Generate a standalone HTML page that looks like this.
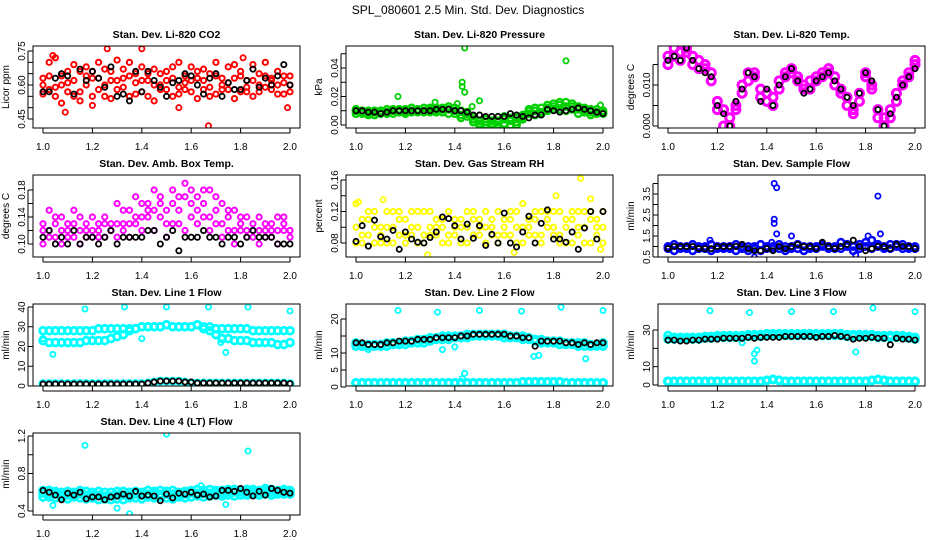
<!DOCTYPE html>
<html><head><meta charset="utf-8"><style>
html,body{margin:0;padding:0;background:#fff;}
svg{display:block;font-family:"Liberation Sans",sans-serif;}
</style></head><body>
<svg id="chart" width="936" height="540" viewBox="0 0 936 540">
<rect width="936" height="540" fill="#fff"/>
<text x="468" y="14" text-anchor="middle" font-size="12">SPL_080601  2.5 Min. Std. Dev. Diagnostics</text>
</svg>
<script>
// ---- data (x evenly spaced from 1.0 to 2.0) ----
const xTicks = [1.0,1.2,1.4,1.6,1.8,2.0];
const xTickLabels = ["1.0","1.2","1.4","1.6","1.8","2.0"];

const co2RedA = [0.60,0.58,0.72,0.64,0.61,0.55,0.66,0.60,0.63,0.58,0.67,0.62,0.71,0.59,0.64,0.56,0.68,0.62,0.60,0.65,0.58,0.63,0.70,0.61,0.57,0.66,0.62,0.59,0.64,0.60,0.68,0.63,0.57,0.62,0.69,0.60,0.64,0.58,0.66,0.61,0.60];
const co2RedB = [0.56,0.64,0.59,0.52,0.66,0.62,0.57,0.68,0.55,0.63,0.60,0.54,0.62,0.67,0.55,0.61,0.57,0.65,0.53,0.60,0.66,0.55,0.59,0.64,0.62,0.54,0.58,0.65,0.56,0.63,0.58,0.54,0.64,0.57,0.55,0.65,0.59,0.62,0.56,0.64,0.57];
const co2RedC = [0.63,0.70,0.55,0.60,0.57,0.69,0.53,0.64,0.66,0.70,0.55,0.66,0.58,0.63,0.70,0.65,0.62,0.55,0.67,0.58,0.62,0.68,0.56,0.58,0.68,0.63,0.67,0.55,0.70,0.58,0.61,0.69,0.66,0.59,0.62,0.57,0.70,0.63,0.60,0.56,0.64];
const co2OutX = [1.26,1.40,1.09,1.67,1.99,1.04,1.81,1.20,1.55];
const co2OutY = [0.76,0.76,0.48,0.42,0.50,0.73,0.72,0.51,0.50];
const co2Black = [0.57,0.57,0.63,0.65,0.64,0.56,0.67,0.62,0.66,0.63,0.59,0.68,0.55,0.56,0.53,0.66,0.57,0.66,0.62,0.59,0.55,0.61,0.62,0.65,0.64,0.60,0.56,0.63,0.65,0.55,0.61,0.58,0.58,0.62,0.67,0.59,0.63,0.60,0.64,0.69,0.60];

const presGreenA = [0.010,0.009,0.008,0.009,0.010,0.011,0.010,0.009,0.011,0.010,0.010,0.012,0.011,0.010,0.012,0.011,0.008,0.010,0.006,0.004,0.003,0.002,0.001,0.002,0.004,0.003,0.002,0.005,0.008,0.010,0.012,0.014,0.015,0.014,0.016,0.013,0.011,0.010,0.009,0.009,0.008];
const presGreenB = [0.008,0.010,0.007,0.010,0.008,0.009,0.008,0.011,0.009,0.012,0.009,0.010,0.009,0.012,0.009,0.013,0.010,0.007,0.009,0.006,0.000,0.004,0.000,0.003,0.006,0.000,0.005,0.004,0.011,0.007,0.008,0.010,0.011,0.016,0.010,0.015,0.008,0.012,0.007,0.011,0.010];
const presGreenC = [0.011,0.008,0.010,0.007,0.009,0.008,0.011,0.010,0.008,0.009,0.011,0.009,0.012,0.009,0.011,0.008,0.012,0.005,0.008,0.002,0.001,0.000,0.003,0.000,0.001,0.005,0.000,0.007,0.010,0.012,0.009,0.012,0.013,0.011,0.013,0.011,0.013,0.009,0.011,0.008,0.009];
const presOutX = [1.44,1.43,1.43,1.44,1.17,1.85,1.50,1.99,1.41,1.32,1.47];
const presOutY = [0.054,0.030,0.027,0.023,0.020,0.045,0.017,0.014,0.015,0.016,0.013];
const presBlack = [0.010,0.010,0.009,0.009,0.008,0.009,0.010,0.010,0.010,0.010,0.010,0.010,0.010,0.011,0.011,0.011,0.010,0.010,0.009,0.007,0.007,0.006,0.006,0.006,0.006,0.008,0.007,0.006,0.005,0.007,0.007,0.011,0.010,0.009,0.010,0.011,0.012,0.011,0.010,0.009,0.008];

const tempMagA = [0.017,0.019,0.018,0.019,0.017,0.016,0.015,0.013,0.006,0.004,0.002,0.005,0.010,0.013,0.013,0.009,0.008,0.007,0.011,0.013,0.014,0.012,0.010,0.011,0.012,0.013,0.014,0.012,0.009,0.007,0.004,0.008,0.013,0.010,0.004,0.002,0.004,0.008,0.011,0.013,0.015];
const tempMagB = [0.015,0.017,0.016,0.018,0.015,0.014,0.014,0.011,0.004,0.000,0.000,0.004,0.008,0.011,0.012,0.007,0.006,0.005,0.009,0.012,0.013,0.011,0.009,0.009,0.011,0.012,0.013,0.010,0.008,0.005,0.003,0.006,0.012,0.009,0.002,0.000,0.002,0.006,0.010,0.012,0.016];
const tempBlack = [0.016,0.017,0.016,0.019,0.016,0.014,0.013,0.012,0.005,0.003,0.000,0.006,0.009,0.013,0.012,0.006,0.009,0.005,0.010,0.012,0.014,0.011,0.008,0.009,0.011,0.012,0.013,0.011,0.009,0.007,0.005,0.008,0.013,0.011,0.004,0.000,0.003,0.007,0.010,0.012,0.014];

const ambMagA = [0.12,0.15,0.13,0.14,0.11,0.15,0.12,0.13,0.14,0.11,0.13,0.12,0.16,0.13,0.15,0.17,0.16,0.14,0.18,0.16,0.15,0.18,0.17,0.19,0.18,0.17,0.16,0.18,0.15,0.16,0.14,0.15,0.13,0.14,0.12,0.14,0.13,0.12,0.14,0.13,0.12];
const ambMagB = [0.10,0.12,0.11,0.10,0.13,0.11,0.10,0.12,0.11,0.13,0.11,0.12,0.11,0.12,0.11,0.13,0.12,0.15,0.12,0.14,0.11,0.13,0.15,0.12,0.16,0.13,0.14,0.12,0.13,0.11,0.12,0.10,0.12,0.11,0.13,0.10,0.12,0.11,0.10,0.12,0.11];
const ambMagC = [0.13,0.11,0.14,0.12,0.12,0.13,0.14,0.11,0.12,0.12,0.14,0.13,0.13,0.15,0.13,0.14,0.14,0.16,0.15,0.17,0.13,0.16,0.13,0.17,0.14,0.15,0.18,0.14,0.17,0.13,0.15,0.12,0.14,0.12,0.11,0.12,0.11,0.13,0.12,0.14,0.12];
const ambBlack = [0.11,0.12,0.10,0.11,0.10,0.12,0.10,0.11,0.11,0.10,0.11,0.12,0.10,0.11,0.11,0.11,0.11,0.12,0.12,0.10,0.11,0.12,0.09,0.11,0.11,0.11,0.12,0.11,0.11,0.10,0.11,0.11,0.10,0.11,0.12,0.11,0.11,0.11,0.10,0.10,0.10];

const rhYelA = [0.13,0.09,0.11,0.12,0.08,0.10,0.12,0.09,0.11,0.10,0.08,0.12,0.10,0.09,0.11,0.08,0.11,0.10,0.12,0.09,0.10,0.08,0.11,0.12,0.09,0.11,0.10,0.13,0.09,0.11,0.08,0.10,0.12,0.09,0.11,0.08,0.12,0.10,0.11,0.09,0.10];
const rhYelB = [0.08,0.11,0.09,0.08,0.10,0.12,0.08,0.11,0.09,0.12,0.10,0.09,0.12,0.10,0.08,0.12,0.09,0.11,0.08,0.12,0.11,0.10,0.09,0.08,0.11,0.09,0.12,0.08,0.11,0.09,0.12,0.11,0.09,0.12,0.08,0.11,0.09,0.12,0.08,0.11,0.08];
const rhYelC = [0.10,0.08,0.12,0.10,0.09,0.08,0.10,0.12,0.08,0.09,0.12,0.08,0.09,0.11,0.10,0.09,0.10,0.08,0.10,0.11,0.09,0.12,0.10,0.09,0.10,0.12,0.08,0.10,0.10,0.12,0.09,0.12,0.10,0.08,0.10,0.12,0.10,0.08,0.12,0.10,0.12];
const rhOutX = [1.91,1.29,1.81,1.11,1.64,1.99,1.01,1.95];
const rhOutY = [0.162,0.065,0.140,0.135,0.068,0.072,0.132,0.136];
const rhBlack = [0.082,0.102,0.076,0.109,0.088,0.085,0.096,0.072,0.094,0.085,0.081,0.080,0.087,0.094,0.113,0.111,0.102,0.085,0.104,0.086,0.102,0.077,0.091,0.080,0.118,0.080,0.075,0.094,0.114,0.080,0.105,0.122,0.085,0.085,0.081,0.094,0.072,0.099,0.120,0.085,0.120];

const sfBlueA = [1.0,1.1,0.9,1.0,1.1,0.9,1.0,1.1,0.9,1.0,0.9,1.1,1.0,0.8,1.0,1.1,0.9,1.0,1.1,1.0,0.9,1.1,1.0,0.9,1.0,1.1,1.0,0.9,1.2,1.0,0.8,1.1,1.0,1.3,1.1,1.0,1.1,1.0,1.1,1.0,1.0];
const sfBlueB = [0.9,0.8,1.0,0.9,0.8,1.0,0.9,0.8,1.0,0.9,1.0,0.8,0.9,1.0,0.9,0.8,1.0,0.9,0.9,0.8,1.0,0.9,0.8,1.0,0.9,1.0,0.9,1.0,0.9,1.1,1.0,0.9,1.2,0.9,1.0,0.9,0.9,1.1,0.9,0.9,0.9];
const sfOutX = [1.43,1.44,1.43,1.43,1.44,1.50,1.85,1.17,1.81,1.86,1.35,1.76,1.42];
const sfOutY = [4.0,3.8,2.3,2.1,1.6,1.5,3.4,1.3,1.5,1.6,0.5,0.6,1.2];
const sfBlack = [0.9,1.0,1.0,1.0,1.0,0.9,0.9,0.9,1.0,1.0,1.0,1.0,1.1,0.9,0.8,0.8,0.9,0.8,1.0,0.9,1.0,1.1,1.0,1.0,0.9,1.2,1.0,0.9,1.0,1.1,1.3,1.0,0.8,0.9,1.0,1.0,0.9,1.1,1.0,1.0,0.9];

const l1CyanU = [28,28,28,28,28,28,28,28,28,29,29,29,29,29,29,29,30,30,30,30,31,30,30,30,30,31,30,30,29,29,29,29,29,29,28,28,28,28,28,28,28];
const l1CyanL = [23,22,22,22,22,22,22,23,23,23,23,24,25,26,28,29,30,30,30,30,31,30,30,30,30,31,29,28,26,24,24,23,23,23,22,22,22,22,21,21,22];
const l1CyanBot = [1.2,1.2,1.2,1.2,1.2,1.2,1.2,1.2,1.2,1.2,1.2,1.2,1.2,1.2,1.2,1.2,1.2,1.5,2,2.5,2.5,2.5,2.5,2,1.5,1.5,1.5,1.5,1.5,1.5,1.5,1.5,1.5,1.5,1.5,1.5,1.5,1.5,1.5,1.5,1.2];
const l1OutX = [1.17,1.33,1.50,1.67,1.83,2.0,1.04,1.74,1.40,1.72,1.00];
const l1OutY = [39,40,40,40,40,38,16,17,24,22,24];
const l1Black = [1,1,1,1,1,1,1,1,1,1,1,1,1,1,1,1,1,1.5,2,2.5,2.5,2.5,2.5,2,2,1.5,1.5,1.5,1.5,1.5,1.5,1.5,1.5,1.5,1.5,1.5,1.5,1.5,1.5,1.5,1.2];

const l2CyanA = [13,12.5,12.5,12.5,12.5,13,13,13,13.5,13.5,14,14,14.5,14.5,15,15,15,15,15.5,15.5,15.5,15.5,15.5,15.5,15.5,15,15,15,14.5,14,14,13.5,13.5,13.5,13,13,13,13,12.5,12.5,13];
const l2CyanB = [12,12,12,12,12,12,12.5,12.5,12.5,13,13,13,13.5,14,14,14,14.5,14.5,14.5,15,15,15,15,15,14.5,14.5,14.5,14,14,13.5,13,13,13,12.5,12.5,12.5,12,12,12,12,12];
const l2CyanBot = [1.2,1.2,1.2,1.2,1.2,1.2,1.2,1.2,1.2,1.2,1.2,1.2,1.2,1.2,1.2,1.2,1.2,1.2,1.2,1.2,1.2,1.2,1.2,1.2,1.2,1.2,1.2,1.5,1.5,1.5,1.5,1.5,1.5,1.5,1.2,1.2,1.2,1.2,1.2,1.2,1.2];
const l2OutX = [1.17,1.33,1.50,1.67,1.83,2.0,1.05,1.35,1.40,1.72,1.74,1.93,1.44,1.43];
const l2OutY = [22.5,22,22.5,22.3,23.5,22.5,11,11,11.8,9,9.3,8.3,4,2.5];
const l2Black = [13,13,12.5,12.5,12.5,13,13,13.5,13.5,13.5,14,14,14,14.5,14.5,14.5,14.5,15,15,15.5,15.5,15.5,15.5,15.5,15.5,15,15,14.5,14.5,12,13.5,13.5,13.5,13.5,13,13,12.5,13,12.5,13,13];

const l3CyanA = [27,26,26,26,26,26,26.5,26.5,27,27,27,27,27,27.5,27.5,27.5,28,28,28,28,28,28,28,28,28,28,28,28,28,27.5,27.5,27.5,27.5,27.5,27,27,27,27,27,26.5,26];
const l3CyanB = [25,25,25,25,25,25,25.5,25.5,26,26,26,26,26,26.5,26.5,26.5,27,27,27,27,27,27,27,27,27,27,27,27,27,26.5,26.5,26.5,26.5,26.5,26,26,26,26,26,25.5,25];
const l3CyanBot = [2,2,2,2,2,2,2,2,2,2,2,2,2,2,2,2,2.5,3,2.5,2,2,2,2,2,2,2,2,2,2,2,2,2,2,2.5,3,2.5,2,2,2,2,2];
const l3OutX = [1.17,1.33,1.50,1.67,1.83,2.0,1.35,1.35,1.36,1.30,1.76];
const l3OutY = [40.5,39.5,40,40,42,40,13,17,19,23,18];
const l3Black = [24.5,24.5,24,24,24.5,24.5,25,25,25,25.5,25.5,25.5,25.5,26,25.5,26,26,26,26,26.5,26.5,26.5,26.5,26.5,26,26.5,26.5,27,26.5,26,25,25.5,25.5,26,25.5,25.5,22,25.5,25,25,24.5];

const l4CyanA = [0.62,0.62,0.61,0.60,0.61,0.60,0.62,0.61,0.60,0.61,0.60,0.60,0.61,0.61,0.60,0.61,0.60,0.62,0.61,0.62,0.61,0.62,0.60,0.61,0.62,0.63,0.62,0.63,0.62,0.62,0.63,0.63,0.62,0.63,0.63,0.62,0.64,0.63,0.62,0.63,0.62];
const l4CyanB = [0.55,0.55,0.54,0.54,0.53,0.55,0.54,0.53,0.54,0.52,0.53,0.52,0.53,0.52,0.54,0.54,0.53,0.55,0.54,0.55,0.54,0.53,0.55,0.54,0.55,0.56,0.55,0.56,0.57,0.56,0.57,0.56,0.57,0.57,0.58,0.57,0.58,0.57,0.58,0.58,0.58];
const l4CyanC = [0.59,0.58,0.58,0.57,0.57,0.58,0.58,0.57,0.57,0.57,0.56,0.56,0.57,0.57,0.57,0.58,0.57,0.58,0.58,0.58,0.58,0.58,0.58,0.58,0.59,0.59,0.59,0.59,0.60,0.59,0.60,0.60,0.60,0.60,0.60,0.60,0.61,0.60,0.60,0.60,0.60];
const l4OutX = [1.50,1.17,1.83,1.04,1.30,1.35,1.74,1.64];
const l4OutY = [1.22,1.10,1.04,0.46,0.43,0.37,0.47,0.67];
const l4Black = [0.62,0.60,0.57,0.52,0.59,0.57,0.60,0.53,0.55,0.55,0.52,0.55,0.56,0.58,0.56,0.61,0.56,0.57,0.56,0.51,0.58,0.54,0.59,0.58,0.60,0.57,0.58,0.55,0.56,0.62,0.62,0.61,0.64,0.60,0.56,0.61,0.57,0.64,0.62,0.60,0.59];

// ---- drawing ----
const svg = document.getElementById('chart');
const NS = 'http://www.w3.org/2000/svg';
const colLeft = [33, 346, 658];
const rowTop = [46, 175, 304, 433];
const BW = 267, BH = 82;
function mk(tag, attrs, parent){ const e=document.createElementNS(NS,tag); for(const k in attrs) e.setAttribute(k,attrs[k]); (parent||svg).appendChild(e); return e; }

function panel(cfg){
  const L = colLeft[cfg.col], T = rowTop[cfg.row], R = L+BW, B = T+BH;
  const g = mk('g',{});
  
  
  const xs = v => L + 10 + (v-1)*(BW-20);
  const ys = v => cfg.p0 + (v-cfg.v0)*(cfg.p1-cfg.p0)/(cfg.v1-cfg.v0);
  const title = mk('text',{x:(L+R)/2,y:T-8,'text-anchor':'middle','font-size':10.5,'font-weight':'bold'},g);
  title.textContent = cfg.title;
  
  
  const ylab = mk('text',{x:0,y:0,'text-anchor':'middle','font-size':10,transform:`translate(${L-24},${(T+B)/2}) rotate(-90)`},g);
  ylab.textContent = cfg.ylab;
  
  
  const clip = 'c'+cfg.name;
  const cp = mk('clipPath',{id:clip},g); mk('rect',{x:L,y:T,width:BW,height:BH},cp);
  const pts = mk('g',{'clip-path':`url(#${clip})`,fill:'none'},g);
  function series(arr, color, r, xarr, sw){
    arr.forEach((v,i)=>{
      const xv = xarr ? xarr[i] : 1 + i/(arr.length-1);
      const c = mk('circle',{cx:xs(xv),cy:ys(v),r:r,stroke:color,'stroke-width':sw},pts);
      
      
    });
  }
  cfg.series.forEach(s=>series(s.y, s.c, s.r||2.6, s.x, s.w||1.8));
  const box = mk('rect',{x:L,y:T,width:BW,height:BH,fill:'none',stroke:'#000','stroke-width':1},g);
  
  
  xTicks.forEach((t,i)=>{
    const x = xs(t);
    mk('line',{x1:x,y1:B,x2:x,y2:B+5,stroke:'#000'},g);
    const tl = mk('text',{x:x,y:B+22,'text-anchor':'middle','font-size':10},g);
    tl.textContent = xTickLabels[i];
    
    
  });
  mk('line',{x1:xs(1),y1:B+5,x2:xs(2),y2:B+5,stroke:'#000'},g);
  cfg.yt.forEach((t,i)=>{
    const y = ys(t);
    mk('line',{x1:L-5,y1:y,x2:L,y2:y,stroke:'#000'},g);
    if(cfg.yl[i]){
      const tl = mk('text',{x:0,y:0,'text-anchor':'middle','font-size':10,transform:`translate(${L-8},${y}) rotate(-90)`},g);
      tl.textContent = cfg.yl[i];
      
      
    }
  });
  mk('line',{x1:L-5,y1:ys(cfg.yt[0]),x2:L-5,y2:ys(cfg.yt[cfg.yt.length-1]),stroke:'#000'},g);
}

const RED='#ff0000', GRN='#00d000', MAG='#ff00ff', YEL='#ffff00', BLU='#0000ff', CYN='#00ffff', BLK='#000000';
panel({name:'panel-co2',col:0,row:0,title:'Stan. Dev. Li-820 CO2',ylab:'Licor ppm',v0:0.45,p0:119,v1:0.75,p1:51,
  yt:[0.45,0.5,0.55,0.6,0.65,0.7,0.75],yl:['0.45','','','0.60','','','0.75'],
  series:[{y:co2RedA,c:RED,w:2},{y:co2RedB,c:RED,w:2},{y:co2RedC,c:RED,w:2},{y:co2OutY,x:co2OutX,c:RED},{y:co2Black,c:BLK}]});
panel({name:'panel-pressure',col:1,row:0,title:'Stan. Dev. Li-820 Pressure',ylab:'kPa',v0:0,p0:125,v1:0.04,p1:68,
  yt:[0,0.01,0.02,0.03,0.04,0.05],yl:['0.00','','0.02','','0.04',''],
  series:[{y:presGreenA,c:GRN,r:3.2,w:2.4},{y:presGreenB,c:GRN,r:3.2,w:2.4},{y:presGreenC,c:GRN,r:3.2,w:2.4},{y:presOutY,x:presOutX,c:GRN},{y:presBlack,c:BLK}]});
panel({name:'panel-temp',col:2,row:0,title:'Stan. Dev. Li-820 Temp.',ylab:'degrees C',v0:0,p0:126,v1:0.010,p1:85,
  yt:[0,0.005,0.010,0.015],yl:['0.000','','0.010',''],
  series:[{y:tempMagA,c:MAG,r:4,w:3},{y:tempMagB,c:MAG,r:4,w:3},{y:tempBlack,c:BLK}]});
panel({name:'panel-amb-box',col:0,row:1,title:'Stan. Dev. Amb. Box Temp.',ylab:'degrees C',v0:0.10,p0:244,v1:0.18,p1:190,
  yt:[0.10,0.12,0.14,0.16,0.18],yl:['0.10','','0.14','','0.18'],
  series:[{y:ambMagA,c:MAG,w:2},{y:ambMagB,c:MAG,w:2},{y:ambMagC,c:MAG,w:2},{y:ambBlack,c:BLK}]});
panel({name:'panel-rh',col:1,row:1,title:'Stan. Dev. Gas Stream RH',ylab:'percent',v0:0.08,p0:243,v1:0.16,p1:180,
  yt:[0.08,0.10,0.12,0.14,0.16],yl:['0.08','','0.12','','0.16'],
  series:[{y:rhYelA,c:YEL,w:2},{y:rhYelB,c:YEL,w:2},{y:rhYelC,c:YEL,w:2},{y:rhOutY,x:rhOutX,c:YEL},{y:rhBlack,c:BLK}]});
panel({name:'panel-sample-flow',col:2,row:1,title:'Stan. Dev. Sample Flow',ylab:'ml/min',v0:0.5,p0:257,v1:3.5,p1:194,
  yt:[0.5,1,1.5,2,2.5,3,3.5,4],yl:['0.5','','1.5','','2.5','','3.5',''],
  series:[{y:sfBlueA,c:BLU,r:3.2,w:2.6},{y:sfBlueB,c:BLU,r:3.2,w:2.6},{y:sfOutY,x:sfOutX,c:BLU},{y:sfBlack,c:BLK}]});
panel({name:'panel-line1',col:0,row:2,title:'Stan. Dev. Line 1 Flow',ylab:'ml/min',v0:0,p0:386,v1:40,p1:307,
  yt:[0,10,20,30,40],yl:['0','10','20','30','40'],
  series:[{y:l1CyanU,c:CYN,r:3.4,w:2.8},{y:l1CyanL,c:CYN,r:3.4,w:2.8},{y:l1CyanBot,c:CYN,r:3.2,w:2.6},{y:l1OutY,x:l1OutX,c:CYN},{y:l1Black,c:BLK}]});
panel({name:'panel-line2',col:1,row:2,title:'Stan. Dev. Line 2 Flow',ylab:'ml/min',v0:0,p0:387,v1:20,p1:319,
  yt:[0,5,10,15,20],yl:['0','5','10','','20'],
  series:[{y:l2CyanA,c:CYN,r:3.4,w:2.8},{y:l2CyanB,c:CYN,r:3.4,w:2.8},{y:l2CyanBot,c:CYN,r:3.4,w:3.2},{y:l2OutY,x:l2OutX,c:CYN},{y:l2Black,c:BLK}]});
panel({name:'panel-line3',col:2,row:2,title:'Stan. Dev. Line 3 Flow',ylab:'ml/min',v0:0,p0:385,v1:30,p1:330,
  yt:[0,10,20,30],yl:['0','10','','30'],
  series:[{y:l3CyanA,c:CYN,r:3.4,w:2.8},{y:l3CyanB,c:CYN,r:3.4,w:2.8},{y:l3CyanBot,c:CYN,r:3.4,w:3.2},{y:l3OutY,x:l3OutX,c:CYN},{y:l3Black,c:BLK}]});
panel({name:'panel-line4',col:0,row:3,title:'Stan. Dev. Line 4 (LT) Flow',ylab:'ml/min',v0:0.4,p0:511,v1:1.2,p1:436,
  yt:[0.4,0.6,0.8,1.0,1.2],yl:['0.4','','0.8','','1.2'],
  series:[{y:l4CyanA,c:CYN,r:3.4,w:2.8},{y:l4CyanB,c:CYN,r:3.4,w:2.8},{y:l4CyanC,c:CYN,r:3.4,w:2.8},{y:l4OutY,x:l4OutX,c:CYN},{y:l4Black,c:BLK}]});
</script>
</body></html>
